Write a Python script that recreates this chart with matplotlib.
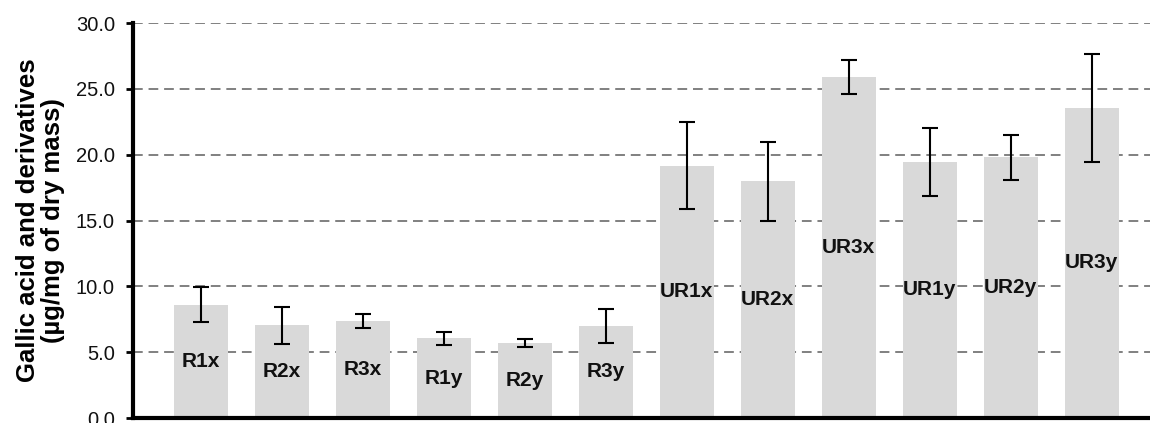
import numpy as np
import matplotlib.pyplot as plt
from matplotlib.ticker import FormatStrFormatter

# values
samples = ["R1x", "R2x", "R3x", "R1y", "R2y", "R3y",
           "UR1x", "UR2x", "UR3x", "UR1y", "UR2y", "UR3y"]
means = [8.6, 7.05, 7.4, 6.05, 5.7, 7.0,
         19.15, 18.0, 25.9, 19.45, 19.8, 23.55]
errors = [1.33, 1.4, 0.53, 0.52, 0.33, 1.3,
          3.3, 3.0, 1.3, 2.6, 1.7, 4.1]

plt.rcParams["font.family"] = ["Liberation Sans", "DejaVu Sans"]

fig = plt.figure(figsize=(11.5, 4.23), dpi=100)
ax = fig.add_axes([0.1157, 0.0118, 1 - 0.1157, 0.9338])

x = np.arange(len(samples))
ax.bar(x, means, width=0.667, color="#d9d9d9", zorder=2)
ax.errorbar(x, means, yerr=errors, fmt="none", ecolor="black",
            elinewidth=1.5, capsize=6, capthick=1.5, zorder=3)

for xi, m, name in zip(x, means, samples):
    ax.text(xi, m / 2, name, ha="center", va="center",
            fontsize=15, fontweight="bold", color="#111111", zorder=4)

ax.set_xlim(-0.84, 11.72)
ax.set_ylim(0, 30)
ax.set_yticks(np.arange(0, 31, 5))
ax.yaxis.set_major_formatter(FormatStrFormatter("%.1f"))
ax.set_xticks([])
ax.tick_params(axis="y", labelsize=14.5, length=5, width=2, pad=8,
               labelcolor="#111111")

ax.yaxis.grid(True, linestyle=(0, (5, 3)), color="#808080", linewidth=1.4, zorder=1)
ax.set_axisbelow(True)

for s in ["top", "right"]:
    ax.spines[s].set_visible(False)
ax.spines["left"].set_linewidth(3)
ax.spines["bottom"].set_linewidth(3)

ax.set_ylabel("Gallic acid and derivatives\n(\u00b5g/mg of dry mass)",
              fontsize=18.5, fontweight="bold", labelpad=8, linespacing=1.05)

fig.savefig("out.png", dpi=100)
